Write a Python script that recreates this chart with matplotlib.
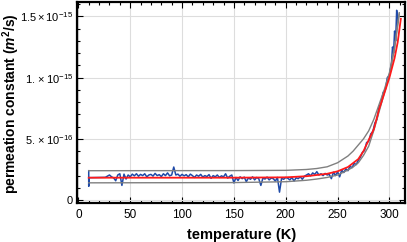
import numpy as np
import matplotlib.pyplot as plt
from matplotlib.ticker import MultipleLocator, FixedLocator

plt.rcParams['font.family'] = 'Liberation Sans'
plt.rcParams['mathtext.fontset'] = 'custom'
plt.rcParams['mathtext.rm'] = 'Liberation Sans'
plt.rcParams['mathtext.it'] = 'Liberation Sans:italic'
plt.rcParams['mathtext.bf'] = 'Liberation Sans:bold'
plt.rcParams['mathtext.bfit'] = 'Liberation Sans:italic:bold'

# measured permeation (units of 1e-15 m^2/s)
temp_meas = [10, 10, 10] + list(range(26, 302, 2)) + [302, 303, 304, 305, 306, 307, 308]
perm_meas = [0.24, 0.114, 0.183,
             # 26 - 60
             0.186, 0.195, 0.205, 0.19, 0.182, 0.158, 0.205, 0.215, 0.12, 0.212,
             0.172, 0.205, 0.19, 0.212, 0.198, 0.215, 0.195, 0.21,
             # 62 - 100
             0.2, 0.215, 0.19, 0.205, 0.21, 0.196, 0.218, 0.2, 0.208, 0.192,
             0.215, 0.2, 0.222, 0.198, 0.205, 0.27, 0.205, 0.212, 0.195, 0.21,
             # 102 - 150
             0.198, 0.208, 0.19, 0.212, 0.2, 0.185, 0.205, 0.195, 0.21, 0.188,
             0.2, 0.192, 0.208, 0.178, 0.2, 0.19, 0.205, 0.185, 0.198, 0.19,
             0.215, 0.18, 0.195, 0.205, 0.14,
             # 152 - 200
             0.185, 0.16, 0.19, 0.175, 0.188, 0.15, 0.182, 0.17, 0.19, 0.165,
             0.185, 0.175, 0.12, 0.18, 0.172, 0.188, 0.165, 0.18, 0.175, 0.155,
             0.185, 0.065, 0.178, 0.17, 0.185,
             # 202 - 240
             0.178, 0.165, 0.185, 0.155, 0.182, 0.175, 0.19, 0.17, 0.195, 0.205,
             0.215, 0.198, 0.222, 0.21, 0.232, 0.205, 0.215, 0.2, 0.218, 0.205,
             # 242 - 270
             0.21, 0.175, 0.228, 0.2, 0.232, 0.19, 0.245, 0.225, 0.255, 0.24,
             0.275, 0.265, 0.3, 0.29, 0.325,
             # 272 - 300
             0.35, 0.39, 0.405, 0.47, 0.48, 0.54, 0.56, 0.63, 0.66, 0.76,
             0.79, 0.88, 0.9, 1.0, 1.02,
             # 302 - 308
             1.12, 1.25, 1.2, 1.38, 1.3, 1.55, 1.45]

# fit and bounds
temp_fit = [10, 150, 200, 220, 240, 250, 260, 270, 275, 280, 285, 290, 295, 300, 305, 308, 311]
perm_fit = [0.183, 0.183, 0.186, 0.195, 0.215, 0.235, 0.27, 0.335, 0.40, 0.49, 0.58,
            0.74, 0.87, 1.0, 1.16, 1.29, 1.48]

temp_band = [10, 150, 200, 220, 230, 240, 250, 260, 265, 270, 275, 280, 285, 290, 295, 300, 305, 309.5]
perm_upper = [0.24, 0.241, 0.243, 0.25, 0.258, 0.272, 0.305, 0.36, 0.40, 0.45, 0.50,
              0.565, 0.66, 0.78, 0.9, 1.04, 1.25, 1.53]
perm_lower = [0.141, 0.143, 0.15, 0.162, 0.172, 0.185, 0.205, 0.245, 0.27, 0.305, 0.365,
              0.44, 0.57, 0.72, 0.87, 1.02, 1.24, 1.52]

scale = 1e-15

fig = plt.figure(figsize=(4.07, 2.42), dpi=100)
ax = fig.add_axes([0.19, 0.163, 0.805, 0.83])

ax.plot(temp_meas, np.array(perm_meas) * scale, color='#1f4aa8', lw=1.1, zorder=2)
ax.plot(temp_band, np.array(perm_upper) * scale, color='#808080', lw=1.0, zorder=3)
ax.plot(temp_band, np.array(perm_lower) * scale, color='#808080', lw=1.0, zorder=3)
ax.plot(temp_fit, np.array(perm_fit) * scale, color='#ff1a1a', lw=1.3, zorder=4)

ax.set_xlim(-1, 315)
ax.set_ylim(-0.02e-15, 1.62e-15)

ax.xaxis.set_major_locator(MultipleLocator(50))
ax.xaxis.set_minor_locator(MultipleLocator(10))
ax.yaxis.set_major_locator(FixedLocator([0, 0.5e-15, 1.0e-15, 1.5e-15]))
ax.yaxis.set_minor_locator(MultipleLocator(1e-16))
ax.set_yticklabels(['0', r'$5.\times10^{-16}$', r'$1.\times10^{-15}$', r'$1.5\times10^{-15}$'])

ax.tick_params(which='both', direction='in', top=True, right=True,
               width=0.8, colors='black')
ax.tick_params(axis='x', labelsize=8.5, pad=5)
ax.tick_params(axis='y', labelsize=8, pad=3)
ax.tick_params(which='major', length=4)
ax.tick_params(which='minor', length=2)

for s in ax.spines.values():
    s.set_linewidth(1.6)

ax.grid(True, which='major', color='#dddddd', lw=0.8, zorder=0)
ax.set_axisbelow(True)

ax.set_xlabel('temperature (K)', fontsize=10.5, fontweight='bold', labelpad=5)
ax.set_ylabel(r'permeation constant ($\mathbfit{m}^\mathbf{2}$/s)', fontsize=10,
              fontweight='bold')
ax.yaxis.set_label_coords(-0.17, 0.49)

fig.savefig('out.png', dpi=100)
